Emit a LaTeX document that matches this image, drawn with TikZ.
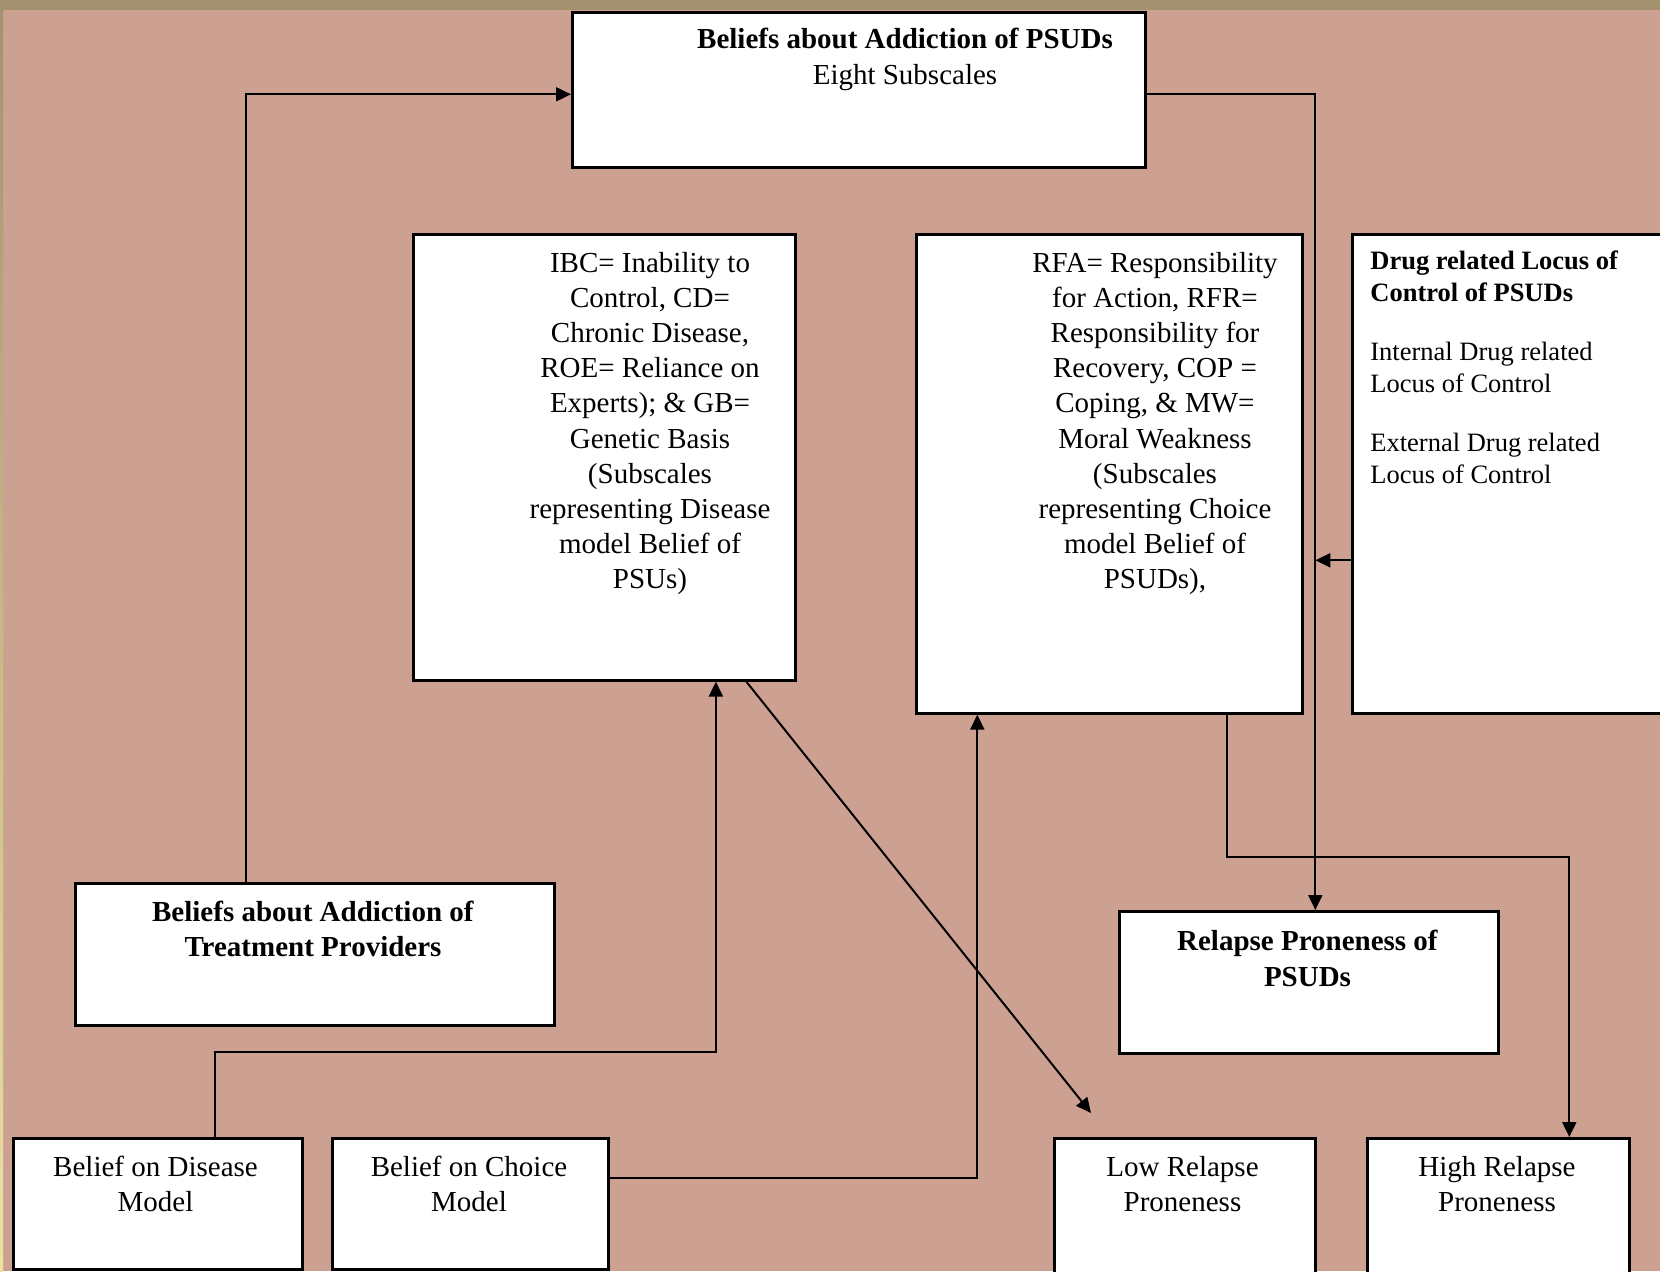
\documentclass[tikz,border=0pt]{standalone}
\usepackage{fontspec}
\setmainfont{Liberation Serif}
\usetikzlibrary{arrows.meta,positioning}
\definecolor{bgpink}{RGB}{205,161,146}
\definecolor{bgolive}{RGB}{163,146,112}
\definecolor{bgyellow}{RGB}{236,226,160}

\begin{document}
\begin{tikzpicture}
    [x=0.5pt,y=-0.5pt,
     box/.style={draw,fill=white,line width=1.3pt,inner sep=0pt,anchor=north west},
     txt/.style={inner sep=0pt,anchor=north,align=center,font=\fontsize{14.5}{17.6}\selectfont},
     link/.style={line width=1pt,-{Triangle[length=7.5pt,width=7pt]}},
     wire/.style={line width=1pt}]
    \clip (0,0) rectangle (1660,1271);
    \fill[bgpink] (0,0) rectangle (1660,1271);
    \fill[bgolive] (0,0) rectangle (1660,10);
    \shade[top color=bgolive,bottom color=bgyellow] (0,10) rectangle (3,1271);

    % boxes
    \node[box,minimum width=286.5pt,minimum height=77.5pt] (psud) at (571,11) {};
    \node[box,minimum width=191pt,minimum height=223pt] (dis) at (412,233) {};
    \node[box,minimum width=193pt,minimum height=239.5pt] (cho) at (915,233) {};
    \node[box,minimum width=164.5pt,minimum height=239.5pt] (loc) at (1351,233) {};
    \node[box,minimum width=239.5pt,minimum height=71pt] (prov) at (74,882) {};
    \node[box,minimum width=189.5pt,minimum height=71pt] (rel) at (1118,910) {};
    \node[box,minimum width=144.5pt,minimum height=65.5pt] (dmod) at (12,1137) {};
    \node[box,minimum width=138pt,minimum height=65.5pt] (cmod) at (331,1137) {};
    \node[box,minimum width=130.5pt,minimum height=81.5pt] (low) at (1053,1137) {};
    \node[box,minimum width=131pt,minimum height=81.5pt] (high) at (1366,1137) {};

    % texts
    \node[txt] (psudtxt) at (905,28) {\textbf{Beliefs about Addiction of PSUDs}\\Eight Subscales};
    \node[txt] (distxt) at (650,251.5) {IBC= Inability to\\Control, CD=\\Chronic Disease,\\ROE= Reliance on\\Experts); \& GB=\\Genetic Basis\\(Subscales\\representing Disease\\model Belief of\\PSUs)};
    \node[txt] (chotxt) at (1155,251.5) {RFA= Responsibility\\for Action, RFR=\\Responsibility for\\Recovery, COP =\\Coping, \& MW=\\Moral Weakness\\(Subscales\\representing Choice\\model Belief of\\PSUDs),};
    \node[txt,anchor=north west,align=left,font=\fontsize{13.25}{16}\selectfont] (loctxt) at (1370,250)
        {\textbf{Drug related Locus of}\\\textbf{Control of PSUDs}\\[13.5pt]Internal Drug related\\Locus of Control\\[13.5pt]External Drug related\\Locus of Control};
    \node[txt] (provtxt) at (313,900.5) {\textbf{Beliefs about Addiction of}\\\textbf{Treatment Providers}};
    \node[txt] (reltxt) at (1307.5,930) {\textbf{Relapse Proneness of}\\\textbf{PSUDs}};
    \node[txt] (dmodtxt) at (155.5,1155.5) {Belief on Disease\\Model};
    \node[txt] (cmodtxt) at (469,1155.5) {Belief on Choice\\Model};
    \node[txt] (lowtxt) at (1182.5,1155.5) {Low Relapse\\Proneness};
    \node[txt] (hightxt) at (1497,1155.5) {High Relapse\\Proneness};

    % connectors
    \coordinate (bx) at ([xshift=3.25pt]rel.north);
    \coordinate (lc) at ([yshift=-43.25pt]loc.west);
    \coordinate (lowtip) at (1091,1113);
    \draw[link] ([xshift=86pt]prov.north west) |- ([yshift=-2.25pt]psud.west);
    \draw[link] ([yshift=-2.25pt]psud.east) -| (bx);
    \draw[link] (lc) -- (lc -| bx);
    \draw[link] ([xshift=59pt]cho.south) -- ++(0,142) -| ([xshift=35.5pt]high.north);
    \draw[link] ([xshift=28.75pt]dmod.north) -- ++(0,-85) -| ([xshift=55.8pt]dis.south);
    \draw[link] ([yshift=12.75pt]cmod.east) -| ([xshift=-66pt]cho.south);
    \draw[link] ([xshift=71pt]dis.south) -- (lowtip);
\end{tikzpicture}
\end{document}
